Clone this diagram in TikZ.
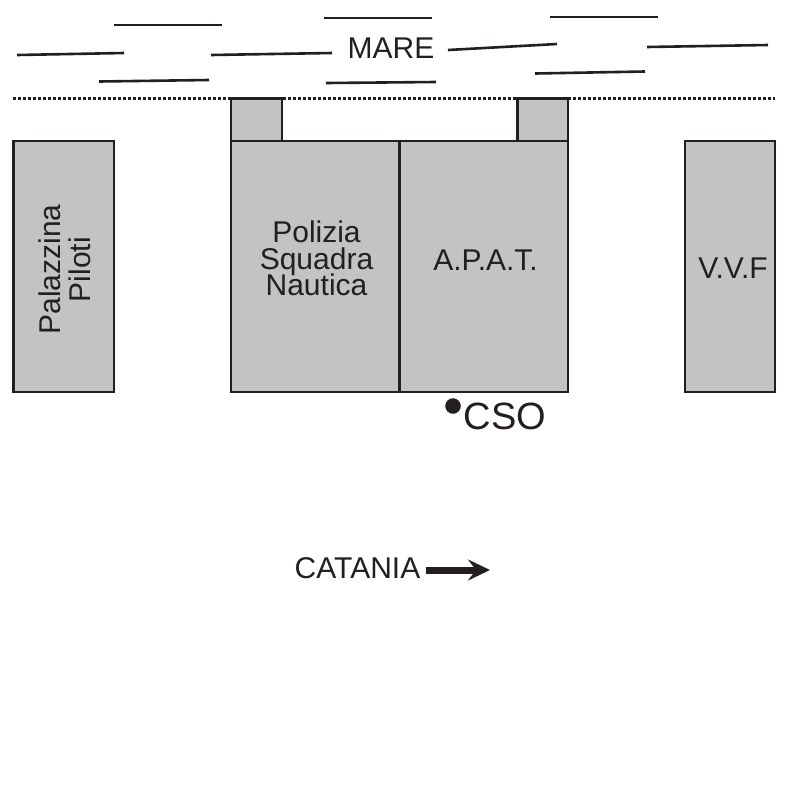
\documentclass[tikz,border=0pt]{standalone}
\usepackage{fontspec}
\setmainfont{Liberation Sans}
\usetikzlibrary{arrows.meta}
\definecolor{edificio}{HTML}{C3C3C1}
\definecolor{nero}{HTML}{231F20}
\newcommand{\labfont}{\fontsize{30}{26.5}\selectfont\lineskiplimit=-15pt\relax}
\tikzset{
	wave/.style = {draw = nero, line width = 2.6pt},
	building/.style = {draw = nero, fill = edificio, line width = 2.8pt},
	lab/.style = {text = nero, align = center, inner sep = 0pt, font = \labfont}
}

\begin{document}
\begin{tikzpicture}[x = 1pt, y = -1pt]
		\useasboundingbox (0,0) rectangle (788,788);
		\draw[wave] (114,25) -- (222,25);
		\draw[wave] (17,55) -- (124,53);
		\draw[wave] (99,81.5) -- (209,80);
		\draw[wave] (324,18) -- (432,18);
		\draw[wave] (211,55) -- (332,53);
		\draw[wave] (326,83) -- (436,82);
		\draw[wave] (448,50) -- (557,44);
		\draw[wave] (550,17) -- (658,17);
		\draw[wave] (647,47) -- (768,45);
		\draw[wave] (535,73.5) -- (645,71.5);
		\node[lab] (mare) at (391,48) {MARE};
		\draw[nero, line width = 2.8pt, dash pattern = on 3.2pt off 1.8pt] (13,98.5) -- (775,98.5);
		\draw[building] (231,98.5) rectangle (282,141);
		\draw[building] (517.5,98.5) rectangle (568,141);
		\draw[building] (13.5,141) rectangle (114,392);
		\draw[building] (231,141) rectangle (399.5,392);
		\draw[building] (399.5,141) rectangle (568,392);
		\draw[building] (685,141) rectangle (775,392);
		\node[lab, rotate = 90] (palazzina) at (65,269.5) {Palazzina\\[3.5pt]Piloti};
		\node[lab] (polizia) at (316.5,258.5) {Polizia\\Squadra\\Nautica};
		\node[lab] (apat) at (485.5,260) {A.P.A.T.};
		\node[lab] (vvf) at (733,268) {V.V.F};
		\filldraw[nero] (453,406) circle (7.5pt);
		\node[lab, font = \fontsize{38}{38}\selectfont] (cso) at (505,416) {CSO};
		\node[lab] (catania) at (357.5,568) {CATANIA};
		\coordinate (punta) at (490,570);
		\draw[nero, line width = 7pt, -{Stealth[length = 22pt, width = 21pt, inset = 8pt]}] (catania.east |- punta) ++(6,0) -- (punta);
	\end{tikzpicture}
\end{document}
